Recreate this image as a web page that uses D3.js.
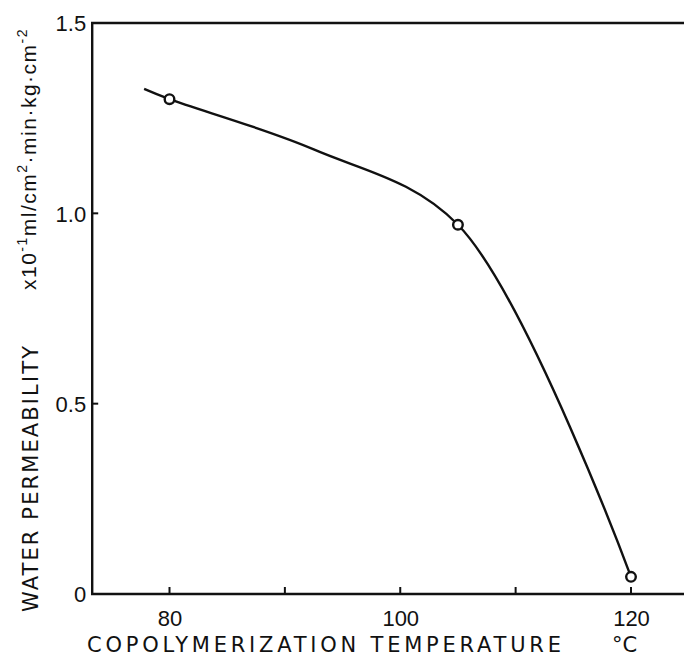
<!DOCTYPE html>
<html>
<head>
<meta charset="utf-8">
<script src="https://cdn.jsdelivr.net/npm/d3@7"></script>
<style>
  html, body { margin: 0; padding: 0; background: #fff; }
  svg { display: block; }
  text { font-family: "DejaVu Sans", "Liberation Sans", sans-serif; fill: #111; }
</style>
</head>
<body>
<svg id="chart" width="684" height="663"></svg>
<script>
// Copolymerization temperature (°C) and measured water permeability
const temperatures = [80, 105, 120];
const permeability = [1.30, 0.97, 0.045];

// Smooth curve drawn through the measurements (starts slightly before 80 °C)
const curveTemps = [77.8, 80, 92.5, 105, 120];
const curveValues = [1.327, 1.30, 1.168, 0.97, 0.045];

const xTicks = [80, 90, 100, 110, 120];
const xTickLabels = ["80", "", "100", "", "120"];
const yTicks = [0, 0.5, 1.0, 1.5];
const yTickLabels = ["0", "0.5", "1.0", "1.5"];

const svg = d3.select("#chart");
const W = 684;

const x = d3.scaleLinear().domain([80, 120]).range([169.5, 631]);
const y = d3.scaleLinear().domain([0, 1.5]).range([594, 23]);

const left = x(73.3), right = W;
const ink = "#111";
const digitFont = "'Liberation Sans', sans-serif";

// Frame: left axis, bottom axis and top rule
svg.append("path")
  .attr("d", `M${right},${y(1.5)}H${left}V${y(0)}H${right}`)
  .attr("fill", "none").attr("stroke", ink).attr("stroke-width", 2.4);

// X ticks (inward) and labels
svg.selectAll(".xt").data(xTicks).join("line")
  .attr("x1", d => x(d)).attr("x2", d => x(d))
  .attr("y1", y(0)).attr("y2", y(0) - 7)
  .attr("stroke", ink).attr("stroke-width", 2);
const xAxis = d3.axisBottom(x).tickValues(xTicks).tickSize(0).tickFormat((d, i) => xTickLabels[i]);
const gx = svg.append("g").attr("transform", `translate(0,${y(0)})`).call(xAxis);
gx.select(".domain").remove();
gx.selectAll("text").attr("dy", 0).attr("y", 32)
  .style("font-size", "22px").style("font-family", digitFont).attr("fill", ink);

// Y ticks (inward) and labels
svg.selectAll(".yt").data(yTicks.filter(d => d > 0 && d < 1.5)).join("line")
  .attr("x1", left).attr("x2", left + 6)
  .attr("y1", d => y(d)).attr("y2", d => y(d))
  .attr("stroke", ink).attr("stroke-width", 2);
const yAxis = d3.axisLeft(y).tickValues(yTicks).tickSize(0).tickFormat((d, i) => yTickLabels[i]);
const gy = svg.append("g").attr("transform", `translate(${left},0)`).call(yAxis);
gy.select(".domain").remove();
gy.selectAll("text").attr("x", -6).attr("dy", "0.36em")
  .style("font-size", "22px").style("font-family", digitFont).attr("fill", ink);

// Curve
const line = d3.line().x((d, i) => x(curveTemps[i])).y(d => y(d)).curve(d3.curveCatmullRom.alpha(0.5));
svg.append("path").datum(curveValues).attr("d", line)
  .attr("fill", "none").attr("stroke", ink).attr("stroke-width", 2.4);

// Measured points
svg.selectAll(".pt").data(permeability).join("circle")
  .attr("cx", (d, i) => x(temperatures[i])).attr("cy", d => y(d)).attr("r", 4.8)
  .attr("fill", "#fff").attr("stroke", ink).attr("stroke-width", 2.4);

// Axis titles
svg.append("text").attr("x", 87).attr("y", 652)
  .attr("textLength", 474).attr("lengthAdjust", "spacing")
  .style("font-size", "21px")
  .text("COPOLYMERIZATION TEMPERATURE");
svg.append("text").attr("x", 612).attr("y", 652)
  .style("font-size", "21px").text("°C");

svg.append("text").attr("transform", "translate(38,612) rotate(-90)")
  .attr("textLength", 266).attr("lengthAdjust", "spacing")
  .style("font-size", "21px")
  .text("WATER  PERMEABILITY");

const unit = svg.append("text").attr("transform", "translate(36,290) rotate(-90)")
  .style("font-size", "21px").style("font-family", digitFont).style("letter-spacing", "1.5px");
unit.append("tspan").text("x10");
unit.append("tspan").attr("dy", -9).style("font-size", "14px").text("-1");
unit.append("tspan").attr("dy", 9).text("ml/cm");
unit.append("tspan").attr("dy", -9).style("font-size", "14px").text("2");
unit.append("tspan").attr("dy", 9).text("·min·kg·cm");
unit.append("tspan").attr("dy", -9).style("font-size", "14px").text("-2");
</script>
</body>
</html>
